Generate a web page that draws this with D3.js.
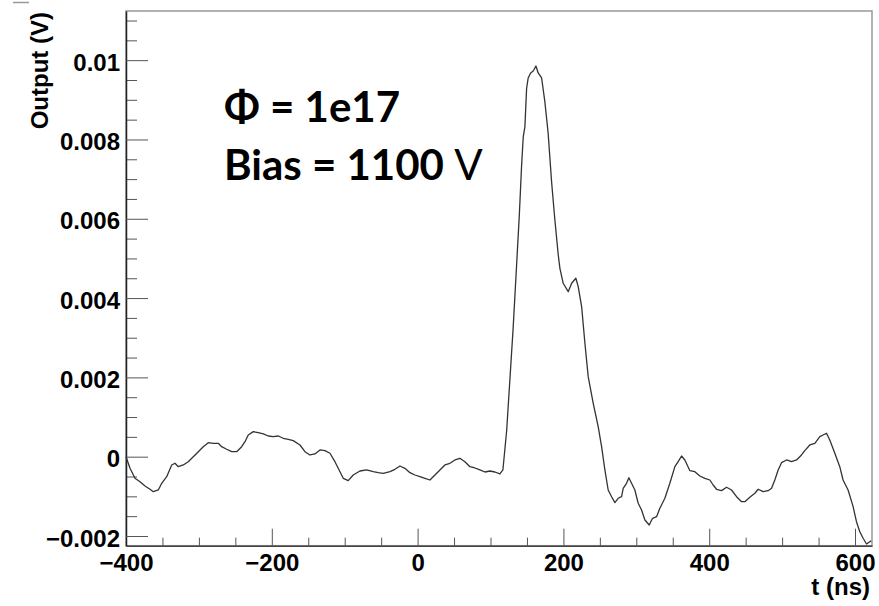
<!DOCTYPE html>
<html>
<head>
<meta charset="utf-8">
<script src="https://cdn.jsdelivr.net/npm/d3@7"></script>
<style>
  body { margin: 0; background: #fff; }
  svg { display: block; }
  .tick text { font-family: "Liberation Sans", Arial, sans-serif; font-weight: bold; }
</style>
</head>
<body>
<div id="chart"></div>
<script>
// waveform
const timeNs = [
  -400, -394.5, -387.7, -380.8, -373.9, -367.1, -362.6, -355.7, -351, -344.2,
  -337.3, -332.8, -328.3, -321.4, -314.6, -307.7, -300.8, -294, -287.1, -280.3,
  -273.4, -268.8, -261.9, -255, -248.2, -241.3, -236.8, -232.3, -225.4, -218.6,
  -211.7, -204.8, -198, -191.1, -184.3, -177.4, -170.6, -161.4, -154.5, -147.7,
  -140.8, -133.9, -127.1, -120.2, -113.4, -106.5, -102, -95.1, -88.3, -79.1,
  -69.9, -60.9, -54, -47.1, -37.9, -31.1, -24.2, -17.4, -10.5, -3.7,
  3.2, 10, 16.9, 23.8, 30.6, 37.5, 44.3, 51.2, 58, 64.9,
  71.8, 78.6, 85.5, 92.3, 99.2, 106, 112.9, 117, 122.1, 126.6,
  131.1, 135.8, 139.4, 142.7, 144.9, 147.2, 149.5, 151.7, 155, 158.6,
  162.3, 165.4, 170.1, 174.6, 179.1, 183.8, 188.3, 192.9, 195.2, 199.7,
  206.6, 211.3, 217.1, 220.3, 225, 229.5, 234, 240.9, 247.7, 252.4,
  256.9, 261.4, 266.1, 270.6, 275.1, 279.8, 282, 286.6, 289.8, 293.5,
  298, 302.6, 307.2, 311.8, 317.7, 322.3, 327.8, 332.3, 339.2, 346,
  352.9, 357.4, 362.1, 366.6, 373.5, 380.3, 387.2, 394, 400.9, 405.4,
  410.1, 416.9, 423.8, 430.6, 437.5, 444.4, 448.9, 455.7, 462.6, 467.1,
  474, 480.8, 485.5, 490, 494.6, 499.2, 506.1, 512.9, 519.8, 526.6,
  531.1, 538, 544.9, 551.7, 556.2, 560.9, 565.4, 572.3, 579.1, 583.6,
  590.5, 597.4, 602, 606.6, 611.1, 615.8, 620.3, 622.3
];
const outputV = [
  0, -0.000293, -0.000545, -0.000631, -0.000739, -0.000822, -0.000883, -0.00084, -0.000671, -0.000504,
  -0.000209, -0.000166, -0.000252, -0.000209, -0.000126, 0, 0.000126, 0.000252, 0.000353, 0.000338,
  0.000338, 0.000252, 0.000187, 0.000126, 0.000126, 0.000252, 0.000378, 0.000547, 0.000631, 0.000605,
  0.000573, 0.000522, 0.000504, 0.000522, 0.000464, 0.000439, 0.000404, 0.000295, 0.000126, 0.000043,
  0.000068, 0.000169, 0.000151, 0.000086, -0.000126, -0.000378, -0.000545, -0.000605, -0.000462, -0.000361,
  -0.000335, -0.000378, -0.000404, -0.000419, -0.000378, -0.000318, -0.000235, -0.000293, -0.000404, -0.000462,
  -0.000504, -0.000545, -0.000588, -0.000462, -0.000335, -0.000209, -0.000166, -0.000083, -0.00004, -0.000126,
  -0.000252, -0.000285, -0.000335, -0.000386, -0.000361, -0.000386, -0.000436, -0.000335, 0.000648, 0.001947,
  0.003258, 0.004835, 0.006053, 0.007364, 0.008063, 0.008325, 0.009286, 0.009551, 0.009677, 0.009727,
  0.009853, 0.009677, 0.009551, 0.008946, 0.008151, 0.006928, 0.00597, 0.005092, 0.004751, 0.004373,
  0.004161, 0.004373, 0.004499, 0.004287, 0.003783, 0.00286, 0.002018, 0.001347, 0.000757, 0.000252,
  -0.000335, -0.00084, -0.001009, -0.00116, -0.001049, -0.001009, -0.000797, -0.000671, -0.00053, -0.000671,
  -0.00084, -0.001175, -0.001344, -0.001596, -0.001723, -0.001554, -0.001513, -0.001301, -0.001049, -0.000671,
  -0.000252, -0.000126, 0.000018, -0.000083, -0.000353, -0.000378, -0.000487, -0.000545, -0.000588, -0.000714,
  -0.000822, -0.000857, -0.000772, -0.00084, -0.001009, -0.001135, -0.001135, -0.001024, -0.000923, -0.000822,
  -0.000883, -0.000857, -0.000797, -0.000588, -0.000335, -0.000151, -0.000083, -0.000126, -0.000083, 0.000043,
  0.000151, 0.000295, 0.000338, 0.000504, 0.000547, 0.00059, 0.000421, 0.000086, -0.000252, -0.000588,
  -0.00084, -0.001261, -0.001639, -0.001892, -0.002058, -0.002202, -0.002144, -0.002118
];

const xTicks = [-400, -200, 0, 200, 400, 600];
const xTickLabels = ["\u2212400", "\u2212200", "0", "200", "400", "600"];
const yTicks = [-0.002, 0, 0.002, 0.004, 0.006, 0.008, 0.01];
const yTickLabels = ["\u22120.002", "0", "0.002", "0.004", "0.006", "0.008", "0.01"];
const annotation = ["\u03a6 = 1e17", "Bias = 1100", "V"];

const W = 879, H = 606;
const margin = { top: 11, right: 7, bottom: 60.3, left: 126 };
const width = W - margin.left - margin.right;
const height = H - margin.top - margin.bottom;

const svg = d3.select("#chart").append("svg")
    .attr("width", W)
    .attr("height", H);

// little leftover mark top-left
svg.append("line")
    .attr("x1", 13).attr("x2", 29).attr("y1", 2.5).attr("y2", 2.5)
    .attr("stroke", "#999").attr("stroke-width", 1.5);

const g = svg.append("g")
    .attr("transform", `translate(${margin.left},${margin.top})`);

const x = d3.scaleLinear().domain([-400, 623.3]).range([0, width]);
const y = d3.scaleLinear().domain([-0.002245, 0.01124]).range([height, 0]);

// frame
g.append("rect")
    .attr("width", width).attr("height", height)
    .attr("fill", "none").attr("stroke", "#999").attr("stroke-width", 1.5);

// minor ticks
const xMinor = d3.range(-350, 623, 50).filter(d => !xTicks.includes(d));
const yMinor = d3.range(-0.002, 0.0112, 0.0005).map(d => +d.toFixed(4)).filter(d => !yTicks.some(t => Math.abs(t - d) < 1e-9));

g.append("g")
    .attr("transform", `translate(0,${height})`)
    .call(d3.axisBottom(x).tickValues(xMinor).tickSizeInner(-8).tickSizeOuter(0).tickFormat(""))
    .call(a => a.select(".domain").remove());
g.append("g")
    .call(d3.axisLeft(y).tickValues(yMinor).tickSizeInner(-11).tickSizeOuter(0).tickFormat(""))
    .call(a => a.select(".domain").remove());

// major ticks + labels
const xAxis = g.append("g")
    .attr("transform", `translate(0,${height})`)
    .call(d3.axisBottom(x).tickValues(xTicks).tickSizeInner(-17).tickSizeOuter(0)
        .tickPadding(8.3).tickFormat((d, i) => xTickLabels[i]));
const yAxis = g.append("g")
    .call(d3.axisLeft(y).tickValues(yTicks).tickSizeInner(-22).tickSizeOuter(0)
        .tickPadding(6).tickFormat((d, i) => yTickLabels[i]));

g.selectAll(".tick line").attr("stroke", "#555");
g.selectAll(".tick text").attr("font-size", 24).attr("fill", "#000");
yAxis.selectAll(".tick text").attr("dy", "0.42em");
xAxis.select(".domain").attr("stroke", "#444").attr("stroke-width", 1.5);
yAxis.select(".domain").attr("stroke", "#222").attr("stroke-width", 1.5);

// waveform
const pts = timeNs.map((t, i) => [t, outputV[i]]);
g.append("path")
    .datum(pts)
    .attr("fill", "none")
    .attr("stroke", "#333")
    .attr("stroke-width", 1.3)
    .attr("stroke-linejoin", "round")
    .attr("d", d3.line().x(d => x(d[0])).y(d => y(d[1])));

// axis titles
svg.append("text")
    .attr("transform", "translate(48,12) rotate(-90)")
    .attr("text-anchor", "end")
    .attr("font-family", "Liberation Sans, Arial, sans-serif")
    .attr("font-weight", "bold")
    .attr("font-size", 24)
    .text("Output (V)");
svg.append("text")
    .attr("x", 870).attr("y", 595)
    .attr("text-anchor", "end")
    .attr("font-family", "Liberation Sans, Arial, sans-serif")
    .attr("font-weight", "bold")
    .attr("font-size", 24)
    .text("t (ns)");

// annotation
const note = svg.append("g")
    .attr("font-family", "Lato, 'Noto Sans', sans-serif")
    .attr("font-size", 42)
    .attr("fill", "#000");
note.append("text").attr("x", 224).attr("y", 122)
    .attr("font-weight", "bold").text(annotation[0]);
const line2 = note.append("text").attr("x", 224).attr("y", 180);
line2.append("tspan").attr("font-weight", "bold").text(annotation[1] + " ");
line2.append("tspan").attr("font-weight", "normal").text(annotation[2]);
</script>
</body>
</html>
